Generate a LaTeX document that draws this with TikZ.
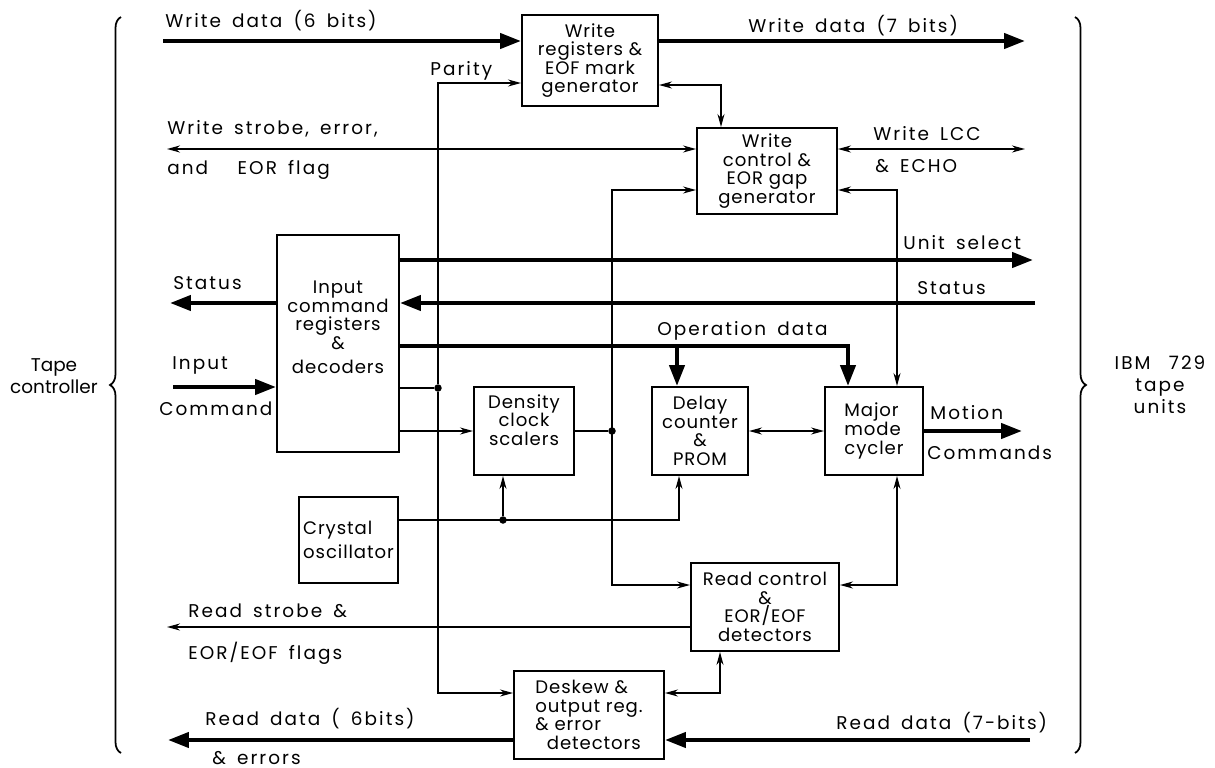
\documentclass[tikz,border=0pt]{standalone}
\usepackage{fontspec}
\setmainfont{Poppins}
\newfontfamily\lblfont[LetterSpace=11,WordSpace=1.6]{Poppins}
\newfontfamily\boxfont[LetterSpace=5]{Poppins}
\usetikzlibrary{arrows.meta,decorations.pathreplacing}

\begin{document}
\begin{tikzpicture}[x=0.02cm,y=-0.02cm,
  >={Stealth[length=2.6mm,width=1.4mm]},
  sig/.style={line width=0.9pt},
  bus/.style={line width=2.4pt,-{Triangle[length=4.2mm,width=3mm]}},
  block/.style={draw,line width=1.1pt,inner sep=1pt,align=center,
    font=\fontsize{10.3}{10.6}\boxfont},
  lbl/.style={inner sep=0pt,anchor=base west,font=\fontsize{10.5}{12}\lblfont},
  dot/.style={circle,fill,inner sep=0pt,minimum size=1.5mm}]

  \useasboundingbox (0,0) rectangle (1215,768);

  % blocks
  \node[block,minimum width=2.72cm,minimum height=1.82cm] (wreg) at (590,60.5)
    {Write\\registers \&\\EOF mark\\generator};
  \node[block,minimum width=2.8cm,minimum height=1.72cm] (wctl) at (767,171)
    {Write\\control \&\\EOR gap\\generator};
  \node[block,minimum width=2.44cm,minimum height=4.34cm] (inp) at (338,343.5)
    {Input\\command\\registers\\\&\\[3pt]decoders\\[8pt]~};
  \node[block,minimum width=2cm,minimum height=1.76cm] (dens) at (524,431)
    {Density\\clock\\scalers\\[2pt]~};
  \node[block,minimum width=1.92cm,minimum height=1.76cm] (dly) at (700,431)
    {Delay\\counter\\\&\\PROM};
  \node[block,minimum width=1.96cm,minimum height=1.76cm,align=left] (maj) at (874,431)
    {Major\\mode\\cycler};
  \node[block,minimum width=1.98cm,minimum height=1.72cm,align=left] (xtal) at (348.5,540)
    {Crystal\\[3pt]oscillator};
  \node[block,minimum width=2.96cm,minimum height=1.76cm] (rctl) at (765,607)
    {Read control\\\&\\EOR/EOF\\detectors};
  \node[block,minimum width=3cm,minimum height=1.76cm,align=left] (dsk) at (589,715)
    {Deskew \&\\output reg.\\\& error\\\ \ detectors};

  % free ends and bends
  \coordinate (wdin) at (163,41);
  \coordinate (wdout) at (1025,41);
  \coordinate (wsout) at (167,149);
  \coordinate (lcc) at (1025,149);
  \coordinate (usel) at (1033,260);
  \coordinate (stin) at (1035,303);
  \coordinate (stout) at (170,303);
  \coordinate (cmdin) at (173,387);
  \coordinate (motion) at (1022,431);
  \coordinate (rsout) at (167,627);
  \coordinate (rdin) at (1030,740);
  \coordinate (rdout) at (168,740);
  \coordinate (par) at (438,83);
  \coordinate (pard) at (438,693);
  \coordinate (wrk) at (721,85);
  \coordinate (wcl) at (612,190);
  \coordinate (rcl) at (612,585);
  \coordinate (wcr) at (897,190);
  \coordinate (rcr) at (897,585);
  \coordinate (opr) at (848,346);
  \coordinate (opd) at (677,346);
  \coordinate (xd) at (679,520);
  \coordinate (dr) at (720,693);
  \node[dot] (j1) at (438,388) {};
  \node[dot] (j2) at (612,431) {};
  \node[dot] (j3) at (503,520) {};

  % buses
  \draw[bus] (wdin) -- (wreg.west |- wdin);
  \draw[bus] (wreg.east |- wdout) -- (wdout);
  \draw[bus] (inp.east |- usel) -- (usel);
  \draw[bus] (stin) -- (inp.east |- stin);
  \draw[bus] (inp.west |- stout) -- (stout);
  \draw[bus] (cmdin) -- (inp.west |- cmdin);
  \draw[bus] (inp.east |- opr) -- (opr) -- (opr |- maj.north);
  \draw[bus] (opd) -- (opd |- dly.north);
  \draw[bus] (maj) -- (motion);
  \draw[bus] (rdin) -- (dsk.east |- rdin);
  \draw[bus] (dsk.west |- rdout) -- (rdout);

  % control lines
  \draw[sig] (inp.east |- j1) -- (j1);
  \draw[sig,->] (j1) -- (par) -- (wreg.west |- par);
  \draw[sig,->] (j1) -- (pard) -- (dsk.west |- pard);
  \draw[sig,<->] (wreg.east |- wrk) -- (wrk) -- (wrk |- wctl.north);
  \draw[sig,<->] (wsout) -- (wctl.west |- wsout);
  \draw[sig,<->] (wctl.east |- lcc) -- (lcc);
  \draw[sig,<->] (wctl.west |- wcl) -- (wcl) -- (rcl) -- (rctl.west |- rcl);
  \draw[sig,<->] (wctl.east |- wcr) -- (wcr) -- (wcr |- maj.north);
  \draw[sig,<->] (rctl.east |- rcr) -- (rcr) -- (rcr |- maj.south);
  \draw[sig,->] (inp.east |- dens.west) -- (dens.west);
  \draw[sig] (dens.east) -- (j2);
  \draw[sig,<->] (dly) -- (maj);
  \draw[sig,->] (xtal.east |- xd) -- (xd) -- (xd |- dly.south);
  \draw[sig,->] (j3) -- (j3 |- dens.south);
  \draw[sig,->] (rctl.west |- rsout) -- (rsout);
  \draw[sig,<->] (dsk.east |- dr) -- (dr) -- (dr |- rctl.south);

  % labels
  \node[lbl] (lwd6) at (165,27) {Write data (6 bits)};
  \node[lbl] (lwd7) at (748,32) {Write data (7 bits)};
  \node[lbl] (lpar) at (430,75) {Parity};
  \node[lbl] (lws1) at (167,134) {Write strobe, error,};
  \node[lbl] (lws2) at (167,174) {and\quad\ EOR flag};
  \node[lbl] (llcc1) at (873,140) {Write LCC};
  \node[lbl] (llcc2) at (875,172) {\& ECHO};
  \node[lbl] (lusel) at (903,249) {Unit select};
  \node[lbl] (lstin) at (917,294) {Status};
  \node[lbl] (lop) at (657,335) {Operation data};
  \node[lbl] (lstout) at (173,289) {Status};
  \node[lbl] (lcmd1) at (172,369) {Input};
  \node[lbl] (lcmd2) at (159,415) {Command};
  \node[lbl] (lmot1) at (930,419) {Motion};
  \node[lbl] (lmot2) at (927,459) {Commands};
  \node[lbl] (lrs1) at (188,617) {Read strobe \&};
  \node[lbl] (lrs2) at (188,659) {EOR/EOF flags};
  \node[lbl] (lrd61) at (205,725) {Read data ( 6bits)};
  \node[lbl] (lrd62) at (212,764) {\& errors};
  \node[lbl] (lrd7) at (836,729) {Read data (7-bits)};

  % braces
  \draw[line width=1pt,decorate,decoration={brace,amplitude=0.22cm}]
    (121,753) -- (121,17);
  \draw[line width=1pt,decorate,decoration={brace,amplitude=0.22cm}]
    (1075,17) -- (1075,753);
  \node[align=center,font=\fontsize{10.5}{12.5}\selectfont] (ctrl) at (54,376)
    {Tape\\controller};
  \node[align=center,font=\fontsize{10.5}{12.5}\lblfont] (tape) at (1160,385)
    {IBM\quad 729\\tape\\units};
\end{tikzpicture}
\end{document}
